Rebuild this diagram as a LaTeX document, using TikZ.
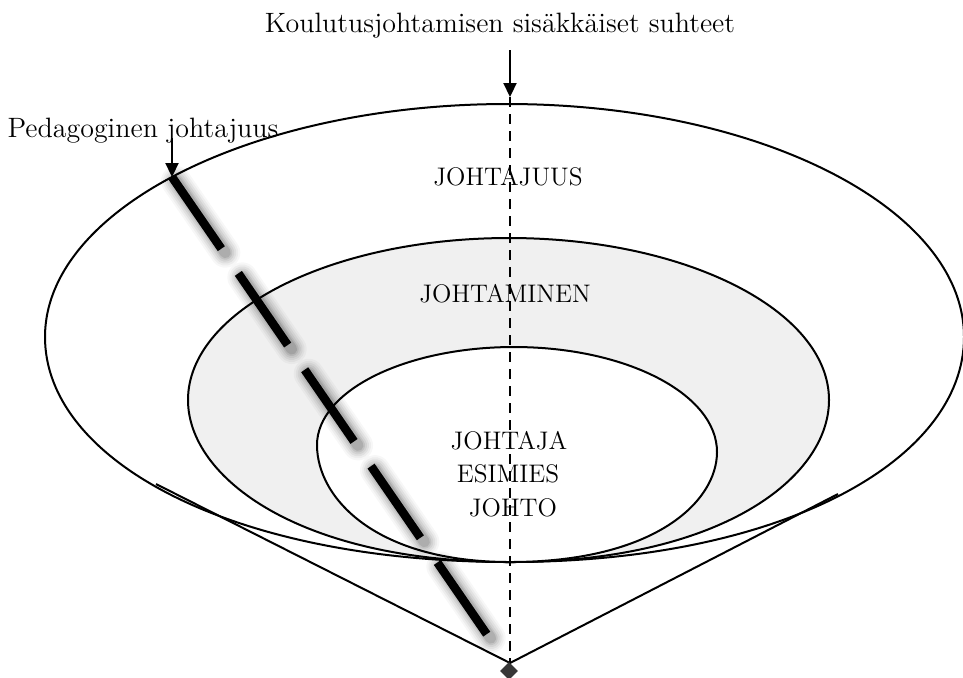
\documentclass[tikz,border=0pt]{standalone}
\usepackage{fontspec}
\usetikzlibrary{arrows.meta,shapes.geometric}
\definecolor{ringgray}{RGB}{240,240,240}
\definecolor{tipgray}{RGB}{55,55,55}
\begin{document}
\begin{tikzpicture}[x=0.5pt,y=-0.5pt,
  ringline/.style={line width=1pt,draw=black},
  capsfont/.style={font=\fontsize{12.7}{15}\selectfont,inner sep=0pt},
  lowfont/.style={font=\fontsize{14}{17}\selectfont,inner sep=0pt},
  arrowline/.style={line width=1.1pt,-{Triangle[width=6.5pt,length=7pt]}},
  pedline/.style={line width=4.3pt,dash pattern=on 43.5pt off 15pt},
  pedshadow/.style={dash pattern=on 43.5pt off 15pt,line cap=round,draw=black},
  axisline/.style={line width=1.1pt,dash pattern=on 5pt off 3.5pt},
]
\useasboundingbox (0,0) rectangle (963,677);

% key points
\coordinate (B) at (510,562);
\coordinate (V) at (510,663);
\coordinate (ConeL) at (156,484);
\coordinate (ConeR) at (838,494);

% outer shape
\path[ringline,fill=white] (B) .. controls (230,562) and (45,460) .. (45,337)
  .. controls (45,208.3) and (254,104) .. (507,104)
  .. controls (759.4,104) and (964,208.3) .. (964,337)
  .. controls (964,460) and (783,562) .. (B) -- cycle;

% cone lines
\draw[ringline] (ConeL) -- (V) -- (ConeR);

% middle shape
\path[ringline,fill=ringgray] (B) .. controls (300,562) and (188,478) .. (188,400)
  .. controls (188,310.5) and (331.7,238) .. (509,238)
  .. controls (685.7,238) and (829,310.5) .. (829,400)
  .. controls (829,478) and (720,562) .. (B) -- cycle;

% inner shape
\path[ringline,fill=white] (B) .. controls (374.9,562) and (317,497.7) .. (317,445)
  .. controls (317,390.9) and (405.2,347) .. (514,347)
  .. controls (626.1,347) and (717,394) .. (717,452)
  .. controls (717,501.5) and (654.9,562) .. (B) -- cycle;

% vertical axis
\coordinate (AxTop) at (510,97);
\draw[axisline] (AxTop) -- (V);

% texts
\node[lowfont,anchor=base] (title) at (500,32) {Koulutusjohtamisen sisäkkäiset suhteet};
\node[lowfont,anchor=base] (ped) at (143,137) {Pedagoginen johtajuus};
\node[capsfont,anchor=base] (johtajuus) at (508,185) {JOHTAJUUS};
\node[capsfont,anchor=base] (johtaminen) at (505,302) {JOHTAMINEN};
\node[capsfont,anchor=base] (johtaja) at (509,449) {JOHTAJA};
\node[capsfont,anchor=base] (esimies) at (508,482) {ESIMIES};
\node[capsfont,anchor=base] (johto) at (513,516) {JOHTO};

% pedagogical line with soft shadow
\coordinate (PedS) at (172,177);
\coordinate (PedE) at (488,636);
\foreach \w/\o in {15/0.03,13/0.04,11/0.05,9/0.06,7/0.08,5.5/0.1}{
  \draw[pedshadow,line width=\w pt,opacity=\o] ([shift={(4,4)}]PedS) -- ([shift={(4,4)}]PedE);
}
\draw[pedline] (PedS) -- (PedE);

% arrows
\coordinate (TitleArrowStart) at (510,50);
\draw[arrowline] (TitleArrowStart) -- (AxTop);
\coordinate (PedArrowStart) at (172,138);
\draw[arrowline] (PedArrowStart) -- (PedS);

% tip diamond
\node[diamond,fill=tipgray,inner sep=0pt,minimum width=9pt,minimum height=9pt] (tip) at (509,671) {};
\end{tikzpicture}
\end{document}
